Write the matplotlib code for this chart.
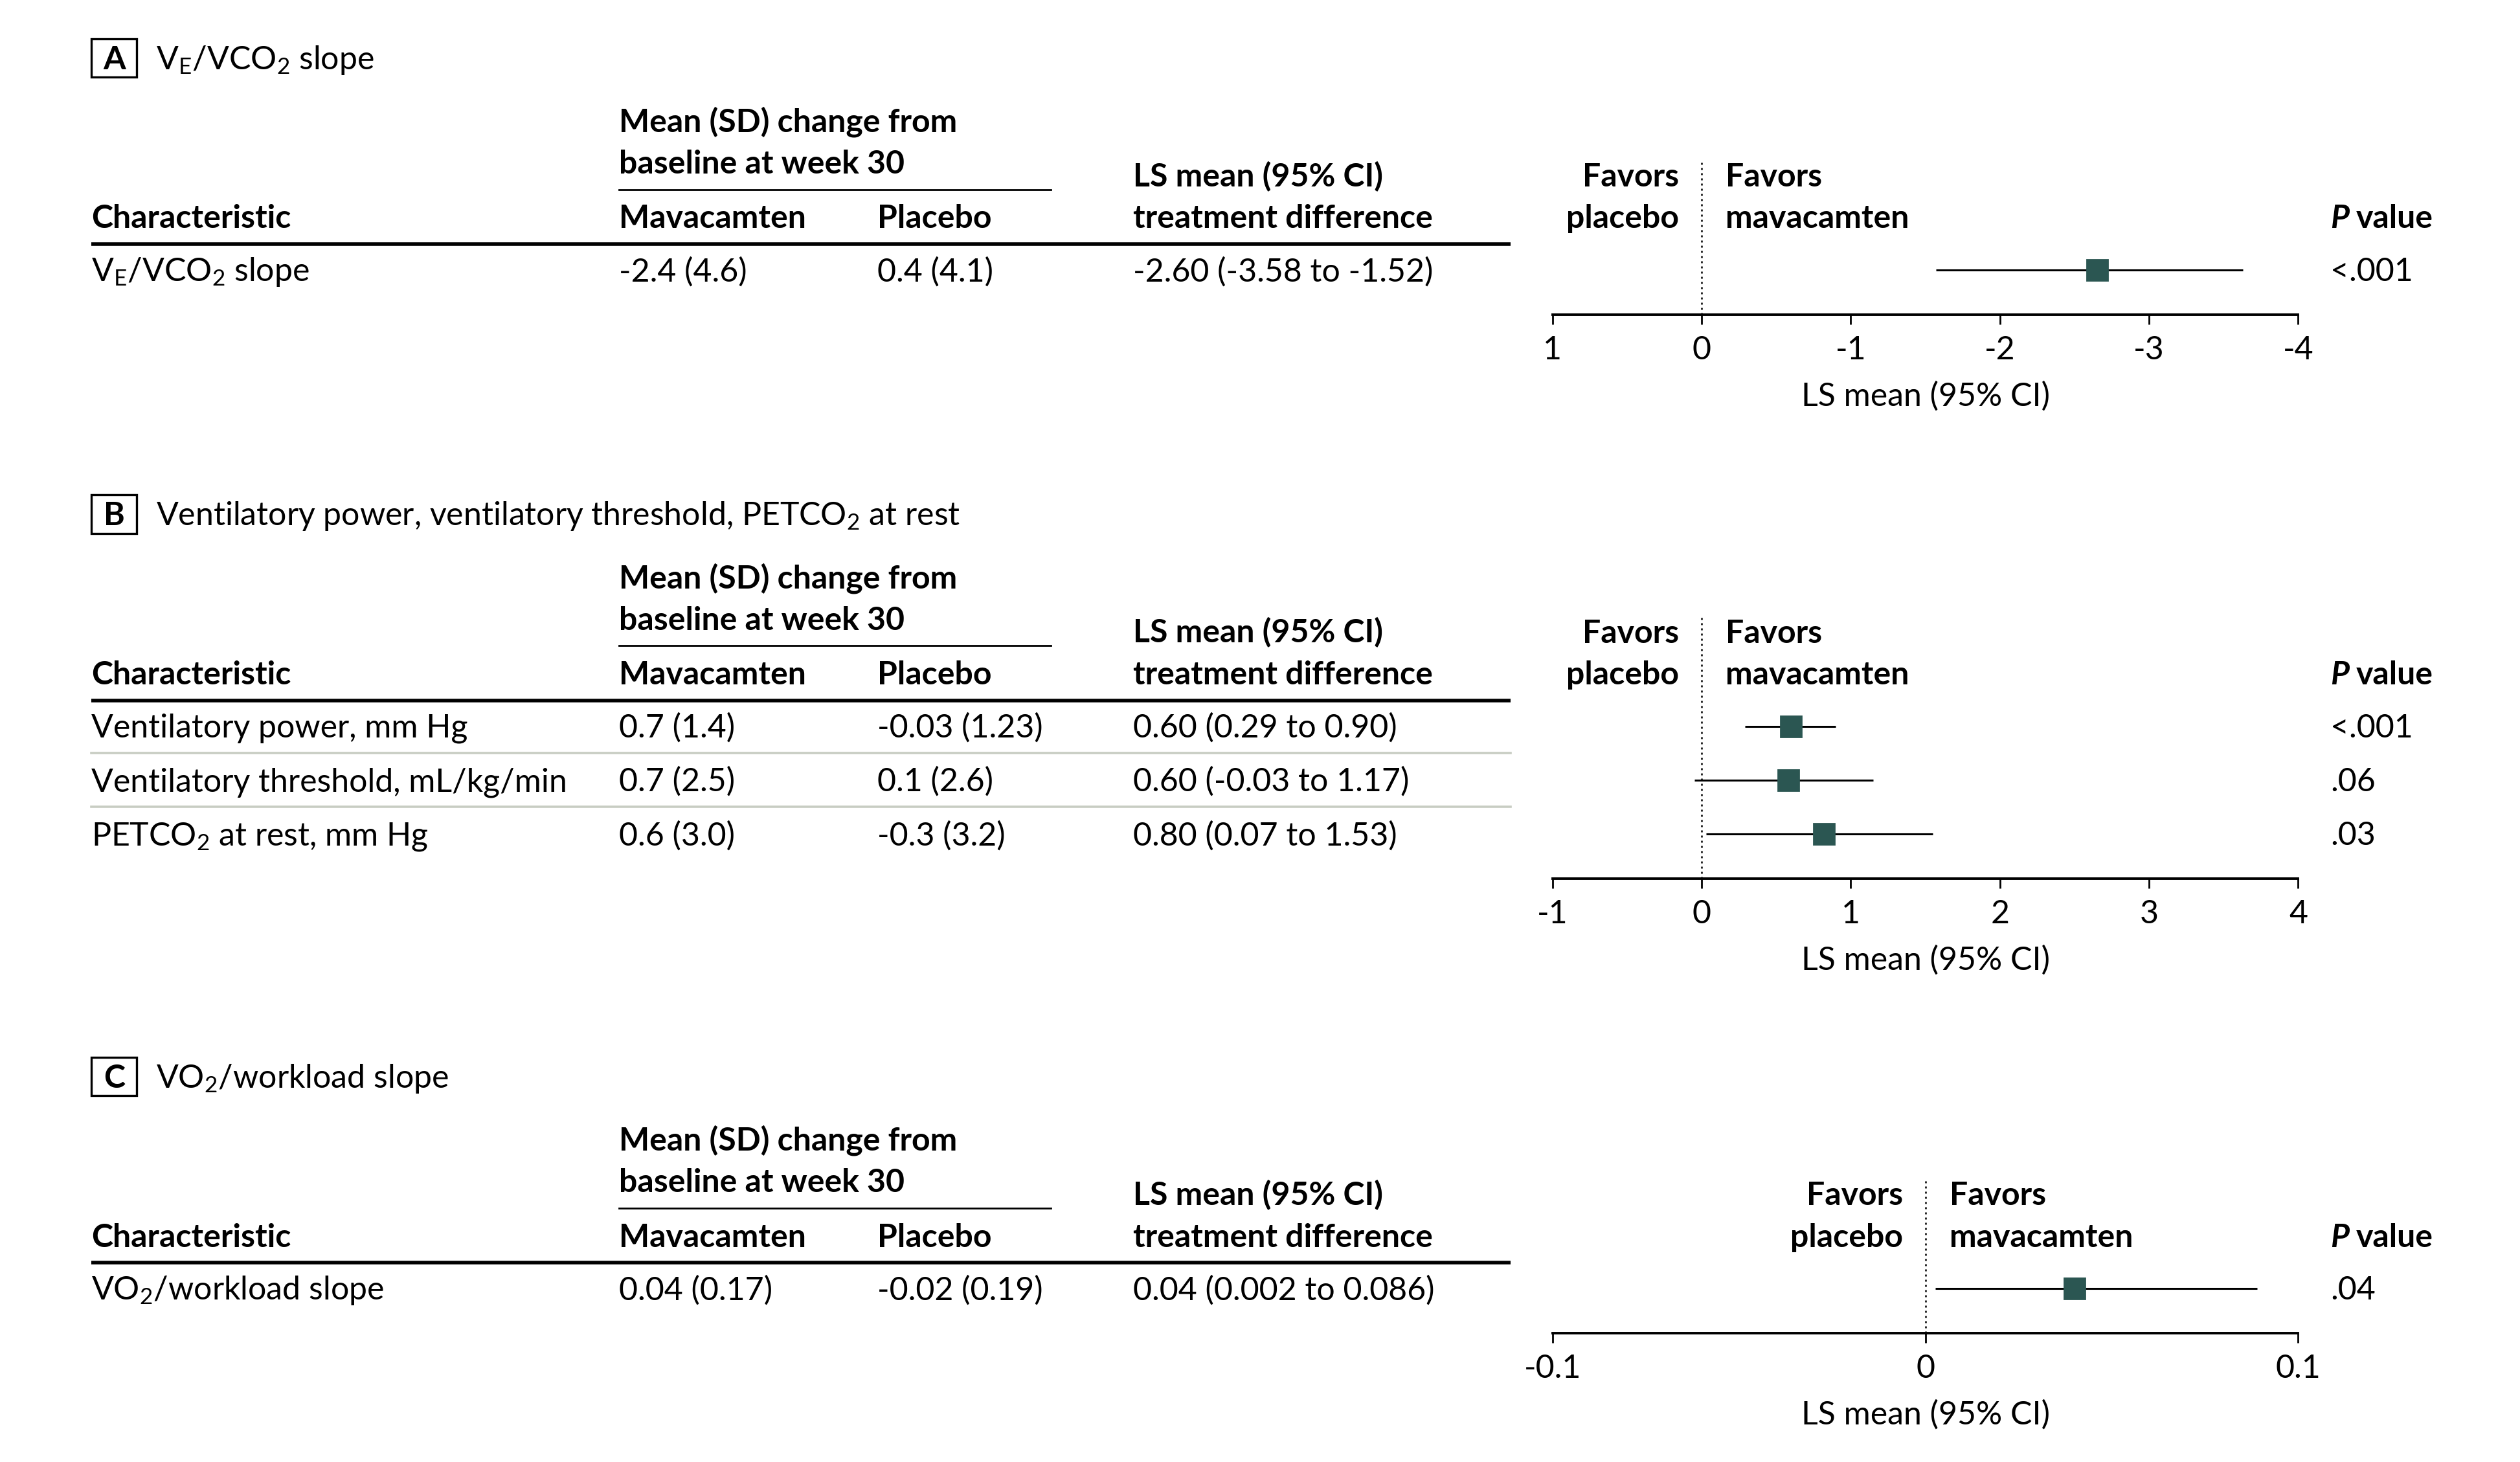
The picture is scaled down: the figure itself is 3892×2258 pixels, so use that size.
import matplotlib
matplotlib.use('Agg')
import matplotlib.pyplot as plt
from matplotlib.patches import Rectangle

FONT = 'Lato'
plt.rcParams['font.family'] = [FONT, 'DejaVu Sans']
plt.rcParams['mathtext.fontset'] = 'custom'
plt.rcParams['mathtext.rm'] = FONT
plt.rcParams['mathtext.it'] = FONT + ':italic'
plt.rcParams['mathtext.bf'] = FONT + ':bold'
plt.rcParams['axes.unicode_minus'] = False

# ---------------- data ----------------
panel_letters = ['A', 'B', 'C']
panel_titles = [r'V$_\mathrm{E}$/VCO$_2$ slope',
                r'Ventilatory power, ventilatory threshold, PETCO$_2$ at rest',
                r'VO$_2$/workload slope']
row_labels = [[r'V$_\mathrm{E}$/VCO$_2$ slope'],
              ['Ventilatory power, mm Hg', 'Ventilatory threshold, mL/kg/min',
               r'PETCO$_2$ at rest, mm Hg'],
              [r'VO$_2$/workload slope']]
mava_text = [['-2.4 (4.6)'], ['0.7 (1.4)', '0.7 (2.5)', '0.6 (3.0)'], ['0.04 (0.17)']]
placebo_text = [['0.4 (4.1)'], ['-0.03 (1.23)', '0.1 (2.6)', '-0.3 (3.2)'], ['-0.02 (0.19)']]
ls_text = [['-2.60 (-3.58 to -1.52)'],
           ['0.60 (0.29 to 0.90)', '0.60 (-0.03 to 1.17)', '0.80 (0.07 to 1.53)'],
           ['0.04 (0.002 to 0.086)']]
p_values = [['<.001'], ['<.001', '.06', '.03'], ['.04']]
est = [[-2.65], [0.60, 0.58, 0.82], [0.040]]
ci_lo = [[-1.57], [0.29, -0.05, 0.03], [0.0026]]
ci_hi = [[-3.63], [0.90, 1.15, 1.55], [0.089]]
xlims = [(1, -4), (-1, 4), (-0.1, 0.1)]
xticks = [[1, 0, -1, -2, -3, -4], [-1, 0, 1, 2, 3, 4], [-0.1, 0, 0.1]]
xticklabels = [['1', '0', '-1', '-2', '-3', '-4'], ['-1', '0', '1', '2', '3', '4'],
               ['-0.1', '0', '0.1']]

# ---------------- layout ----------------
W, H = 1568, 910
panel_y0 = [0, 284, 634]
ROW_STEP = 33.5
FS = 18
BASE = 7
MARK = '#2b5652'
SEP = '#c8cdc3'

fig = plt.figure(figsize=(19.46, 11.29), dpi=200)
bg = fig.add_axes([0, 0, 1, 1])
bg.set_xlim(0, W)
bg.set_ylim(H, 0)
bg.axis('off')


def T(x, yc, s, **kw):
    return bg.text(x, yc + BASE, s, va='baseline', fontsize=FS, **kw)


for k in range(3):
    y0 = panel_y0[k]
    n = len(row_labels[k])
    # panel header
    bg.add_patch(Rectangle((57, y0 + 24), 28, 24, fill=False, lw=1.2, ec='black'))
    T(71, y0 + 36, panel_letters[k], ha='center', fontweight='bold')
    T(97, y0 + 36, panel_titles[k])
    # table header
    T(385, y0 + 75, 'Mean (SD) change from', fontweight='bold')
    T(385, y0 + 101, 'baseline at week 30', fontweight='bold')
    bg.plot([385, 654], [y0 + 118] * 2, color='black', lw=1.0)
    T(705, y0 + 109, 'LS mean (95% CI)', fontweight='bold')
    T(705, y0 + 135, 'treatment difference', fontweight='bold')
    T(57, y0 + 135, 'Characteristic', fontweight='bold')
    T(385, y0 + 135, 'Mavacamten', fontweight='bold')
    T(546, y0 + 135, 'Placebo', fontweight='bold')
    bg.plot([57, 940], [y0 + 152] * 2, color='black', lw=2.0, solid_capstyle='butt')
    # P value header
    T(1450, y0 + 135, 'P', fontweight='bold', fontstyle='italic')
    T(1466, y0 + 135, 'value', fontweight='bold')

    rows_y = [y0 + 168 + i * ROW_STEP for i in range(n)]
    for i, yr in enumerate(rows_y):
        T(57, yr, row_labels[k][i])
        T(385, yr, mava_text[k][i])
        T(546, yr, placebo_text[k][i])
        T(705, yr, ls_text[k][i])
        T(1450, yr, p_values[k][i])
        if i < n - 1:
            bg.plot([57, 940], [yr + ROW_STEP / 2] * 2, color=SEP, lw=1.3)

    # forest plot axes
    axis_y = rows_y[-1] + 28
    top_y = y0 + 100
    ax = fig.add_axes([966 / W, 1 - axis_y / H, 464 / W, (axis_y - top_y) / H])
    ax.set_facecolor('none')
    xl = xlims[k]
    ax.set_xlim(xl)
    ax.set_ylim(axis_y, top_y)
    ax.hlines(rows_y, ci_lo[k], ci_hi[k], color='black', lw=1.1)
    ax.plot(est[k], rows_y, 's', ms=11.5, color=MARK, mec=MARK, zorder=3)
    ax.axvline(0, color='black', lw=0.9, ls=(0, (1.2, 2.0)))
    for s in ['left', 'right', 'top']:
        ax.spines[s].set_visible(False)
    ax.spines['bottom'].set_linewidth(1.4)
    ax.set_yticks([])
    ax.set_xticks(xticks[k])
    ax.set_xticklabels(xticklabels[k])
    ax.tick_params(axis='x', length=5.5, width=1.0, pad=6, labelsize=FS)
    ax.set_xlabel('LS mean (95% CI)', fontsize=FS, labelpad=9)

    xz = 966 + (0 - xl[0]) / (xl[1] - xl[0]) * 464
    T(xz - 14, y0 + 109, 'Favors', ha='right', fontweight='bold')
    T(xz - 14, y0 + 135, 'placebo', ha='right', fontweight='bold')
    T(xz + 15, y0 + 109, 'Favors', ha='left', fontweight='bold')
    T(xz + 15, y0 + 135, 'mavacamten', ha='left', fontweight='bold')

fig.savefig('out.png', dpi=200)
